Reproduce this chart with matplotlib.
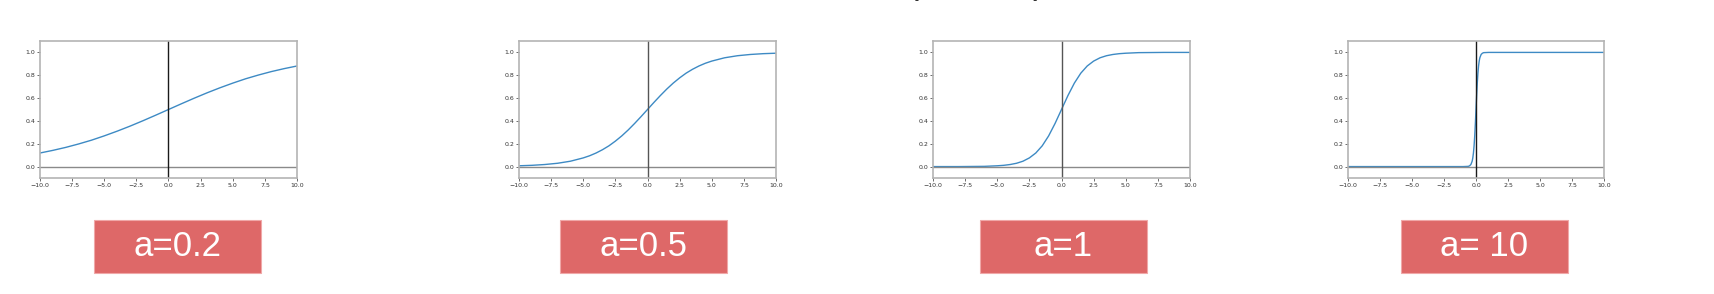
import numpy as np
import matplotlib.pyplot as plt
from matplotlib.patches import Rectangle

# curves: sigmoid-ish for four values of a
labels = ['a=0.2', 'a=0.5', 'a=1', 'a= 10']

x_02 = [-10, -9, -8, -7, -6, -5, -4, -3, -2, -1, 0,
        1, 2, 3, 4, 5, 6, 7, 8, 9, 10]
y_02 = [0.119, 0.142, 0.168, 0.198, 0.231, 0.269, 0.310, 0.354, 0.401, 0.450, 0.500,
        0.550, 0.599, 0.646, 0.690, 0.731, 0.769, 0.802, 0.832, 0.858, 0.881]

x_05 = [-10, -9, -8, -7, -6, -5, -4.5, -4, -3.5, -3, -2.5, -2, -1.5, -1, -0.5, 0,
        0.5, 1, 1.5, 2, 2.5, 3, 3.5, 4, 4.5, 5, 6, 7, 8, 9, 10]
y_05 = [0.007, 0.011, 0.018, 0.029, 0.047, 0.076, 0.095, 0.119, 0.148, 0.182, 0.223, 0.269, 0.321, 0.378, 0.438, 0.500,
        0.562, 0.622, 0.679, 0.731, 0.777, 0.818, 0.852, 0.881, 0.905, 0.924, 0.953, 0.971, 0.982, 0.989, 0.993]

x_1 = [-10, -8, -7, -6, -5, -4.5, -4, -3.5, -3, -2.5, -2, -1.5, -1, -0.5, 0,
       0.5, 1, 1.5, 2, 2.5, 3, 3.5, 4, 4.5, 5, 6, 7, 8, 10]
y_1 = [0.000, 0.000, 0.001, 0.002, 0.007, 0.011, 0.018, 0.029, 0.047, 0.076, 0.119, 0.182, 0.269, 0.378, 0.500,
       0.622, 0.731, 0.818, 0.881, 0.924, 0.953, 0.971, 0.982, 0.989, 0.993, 0.998, 0.999, 1.000, 1.000]

x_10 = [-10, -1, -0.6, -0.5, -0.4, -0.3, -0.25, -0.2, -0.15, -0.1, -0.05, 0,
        0.05, 0.1, 0.15, 0.2, 0.25, 0.3, 0.4, 0.5, 0.6, 1, 10]
y_10 = [0.000, 0.000, 0.002, 0.007, 0.018, 0.047, 0.076, 0.119, 0.182, 0.269, 0.378, 0.500,
        0.622, 0.731, 0.818, 0.881, 0.924, 0.953, 0.982, 0.993, 0.998, 1.000, 1.000]

curves = [(x_02, y_02), (x_05, y_05), (x_1, y_1), (x_10, y_10)]

xticks = [-10, -7.5, -5, -2.5, 0, 2.5, 5, 7.5, 10]
yticks = [0.0, 0.2, 0.4, 0.6, 0.8, 1.0]

W, H = 1714, 294
fig = plt.figure(figsize=(W / 100, H / 100), dpi=100)

# pixel boxes (left, right) of each axes and each label box
ax_lr = [(40, 297), (519, 776), (933, 1190), (1348, 1604)]
box_left = [94, 560, 980, 1401]
box_w = 167
vcol = ['#1a1a1a', '#555555', '#555555', '#1a1a1a']

def fmt(t):
  # matplotlib-style minus sign
  return ('%.1f' % t).replace('-', '\u2212')

for i, (xs, ys) in enumerate(curves):
  l, r = ax_lr[i]
  ax = fig.add_axes([l / W, (H - 178) / H, (r - l) / W, 137 / H])
  ax.plot(xs, ys, color='#3d8ac4', lw=1.0)
  ax.axhline(0, color='#8a8a8a', lw=1.0)
  ax.axvline(0, color=vcol[i], lw=1.0)
  ax.set_xlim(-10, 10)
  ax.set_ylim(-0.1, 1.1)
  ax.set_xticks(xticks)
  ax.set_yticks(yticks)
  ax.set_xticklabels([fmt(t) for t in xticks])
  ax.set_yticklabels([fmt(t) for t in yticks])
  ax.tick_params(labelsize=4.5, colors='#333333', length=2, width=0.5, pad=1.5)
  for s in ax.spines.values():
    s.set_color('#b4b4b4')
    s.set_linewidth(1.2)

  # red label box underneath
  bl = box_left[i]
  fig.patches.append(Rectangle((bl / W, (H - 273) / H), box_w / W, 53 / H,
                               transform=fig.transFigure, facecolor='#de6868',
                               edgecolor='#f0a8a8', lw=0.8))
  fig.text((bl + box_w / 2) / W, (H - 247) / H, labels[i], color='white',
           fontsize=25, family='Liberation Sans', ha='center', va='center')

# formula at the top is cut off by the image edge
fig.text(960 / W, (H + 17) / H, '1/(1+e$^{-ax}$)', fontsize=26, color='#333333',
         family='Liberation Sans', ha='center', va='center')

fig.savefig('out.png', dpi=100, facecolor='white')
